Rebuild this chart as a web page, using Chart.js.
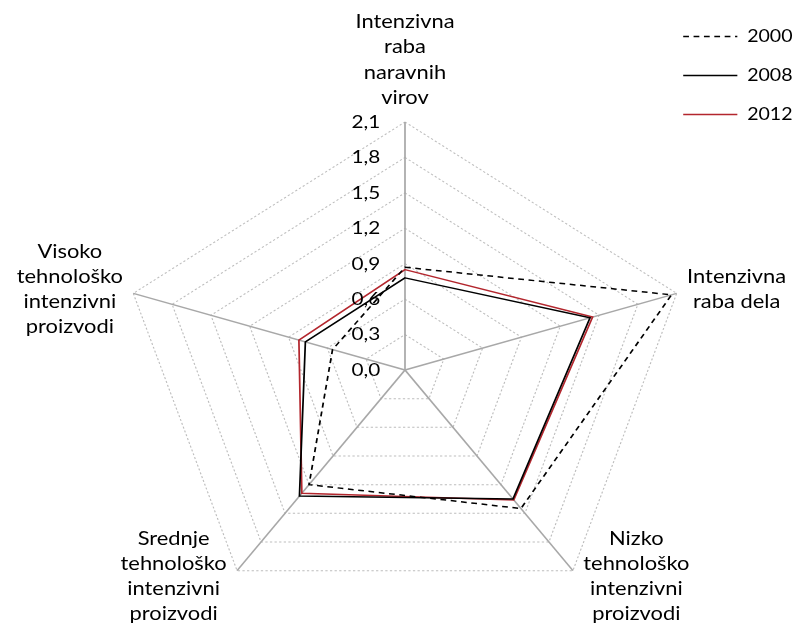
<!DOCTYPE html>
<html>
<head>
<meta charset="utf-8">
<style>
  html, body { margin: 0; background: #fff; }
  #wrap { width: 800px; height: 626px; }
</style>
</head>
<body>
<div id="wrap"><canvas id="radarChart"></canvas></div>
<script src="https://cdn.jsdelivr.net/npm/chart.js"></script>
<script>
// data
const categories = [
  ['Intenzivna', 'raba', 'naravnih', 'virov'],
  ['Intenzivna', 'raba dela'],
  ['Nizko', 'tehnološko', 'intenzivni', 'proizvodi'],
  ['Srednje', 'tehnološko', 'intenzivni', 'proizvodi'],
  ['Visoko', 'tehnološko', 'intenzivni', 'proizvodi']
]
const years = ['2000', '2008', '2012']
const values2000 = [0.87, 2.06, 1.45, 1.20, 0.56]
const values2008 = [0.78, 1.43, 1.35, 1.32, 0.77]
const values2012 = [0.85, 1.45, 1.36, 1.29, 0.82]
const tickLabels = ['0,0', '0,3', '0,6', '0,9', '1,2', '1,5', '1,8', '2,1']

// the original picture is stretched sideways, so draw everything stretched
const STRETCH = 1.152
const CENTER_X = 405 / STRETCH
const CENTER_Y = 370
const RADIUS = 248
const LABEL_GAP_X = 9
const LABEL_GAP_TOP = 12
const TICK_SHIFT = -34

const stretchPlugin = {
  id: 'stretch',
  afterLayout(chart) {
    const r = chart.scales.r
    r.xCenter = CENTER_X
    r.yCenter = CENTER_Y
    r.drawingArea = RADIUS
    // place the axis titles like the original: centred lines, beside the corner
    r._pointLabelItems.forEach((item, i) => {
      const w = item.right - item.left
      const h = item.bottom - item.top
      const v = r.getPointPosition(i, RADIUS)
      const dx = v.x - r.xCenter
      let left, top
      if (Math.abs(dx) < 1) {
        left = v.x - w / 2
        top = v.y - LABEL_GAP_TOP - h
      } else {
        left = dx > 0 ? v.x + LABEL_GAP_X : v.x - LABEL_GAP_X - w
        top = v.y - h / 2 + (v.y > r.yCenter ? 6 : -4)
      }
      Object.assign(item, {
        x: left + w / 2, y: top, textAlign: 'center',
        left, top, right: left + w, bottom: top + h
      })
    })
  },
  beforeDraw(chart) {
    chart.ctx.save()
    chart.ctx.scale(STRETCH, 1)
  },
  afterDraw(chart) {
    const r = chart.scales.r
    const ctx = chart.ctx
    ctx.font = '18px Lato'
    ctx.fillStyle = '#000'
    ctx.textAlign = 'center'
    ctx.textBaseline = 'middle'
    r.ticks.forEach((tick) => {
      ctx.fillText(tick.label, r.xCenter + TICK_SHIFT, r.yCenter - r.getDistanceFromCenterForValue(tick.value))
    })
    ctx.restore()
  }
}

const lineSettings = {
  borderWidth: 1.5,
  fill: false,
  tension: 0,
  pointRadius: 0,
  pointHoverRadius: 0,
  clip: false
}

new Chart(document.querySelector('#radarChart'), {
  type: 'radar',
  data: {
    labels: categories,
    datasets: [
      {
        label: years[0],
        data: values2000,
        borderColor: '#000',
        backgroundColor: '#000',
        borderDash: [5, 4],
        ...lineSettings
      },
      {
        label: years[1],
        data: values2008,
        borderColor: '#000',
        backgroundColor: '#000',
        ...lineSettings
      },
      {
        label: years[2],
        data: values2012,
        borderColor: '#b3262d',
        backgroundColor: '#b3262d',
        ...lineSettings
      }
    ]
  },
  options: {
    responsive: true,
    maintainAspectRatio: false,
    animation: false,
    layout: {
      padding: { top: 6, right: 102 }
    },
    plugins: {
      tooltip: { enabled: false },
      legend: {
        position: 'right',
        align: 'start',
        labels: {
          usePointStyle: true,
          pointStyle: 'line',
          pointStyleWidth: 47,
          padding: 22,
          color: '#000',
          font: { family: 'Lato', size: 17 },
          // keep the dash of each line in its legend sample
          generateLabels(chart) {
            const items = Chart.defaults.plugins.legend.labels.generateLabels(chart)
            items.forEach((item) => {
              const ds = chart.data.datasets[item.datasetIndex]
              item.strokeStyle = ds.borderColor
              item.lineWidth = ds.borderWidth
              item.lineDash = ds.borderDash || []
            })
            return items
          }
        }
      }
    },
    scales: {
      r: {
        min: 0,
        max: 2.1,
        ticks: {
          stepSize: 0.3,
          display: false,
          callback: (value, index) => tickLabels[index]
        },
        grid: { color: '#bdbdbd', lineWidth: 1 },
        border: { dash: [2, 2] },
        angleLines: { color: '#a8a8a8', lineWidth: 1.5 },
        pointLabels: {
          padding: 0,
          color: '#000',
          font: { family: 'Lato', size: 19, lineHeight: 1.32 }
        }
      }
    }
  },
  plugins: [stretchPlugin]
})
</script>
</body>
</html>
